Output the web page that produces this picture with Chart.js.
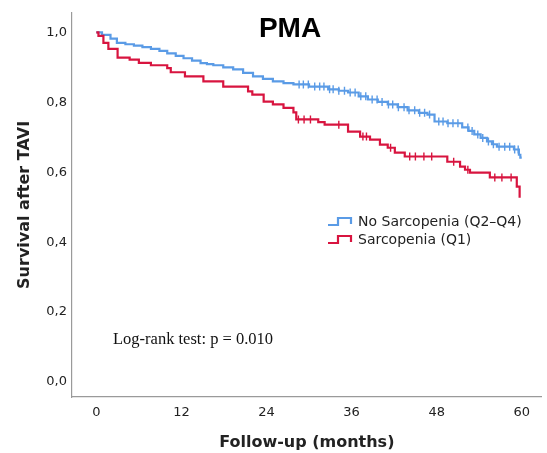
<!DOCTYPE html>
<html>
<head>
<meta charset="utf-8">
<script src="https://cdn.jsdelivr.net/npm/chart.js@4.4.1/dist/chart.umd.min.js"></script>
<style>
html,body{margin:0;padding:0;background:#fff;}
#wrap{position:relative;width:547px;height:453px;}
</style>
</head>
<body>
<div id="wrap"><canvas id="c" width="547" height="453"></canvas></div>
<script>
// ---- data (months, survival) ----
const blueTimes = [0,0.8,2.0,2.9,4.1,5.3,6.5,7.7,8.9,10.0,11.2,12.3,13.5,14.7,15.6,16.5,17.9,19.3,20.7,22.1,23.5,24.9,26.4,27.8,30.0,32.7,34.2,35.5,37.0,38.3,39.7,41.1,42.5,43.9,45.5,46.7,47.7,49.5,51.6,52.5,53.3,54.2,55.1,55.8,56.5,58.9,59.6,59.8,60.0];
const blueSurv  = [1.0,0.993,0.982,0.970,0.966,0.962,0.958,0.953,0.947,0.940,0.933,0.926,0.919,0.912,0.909,0.906,0.900,0.894,0.884,0.874,0.867,0.860,0.855,0.851,0.845,0.837,0.833,0.828,0.817,0.808,0.801,0.794,0.786,0.777,0.770,0.765,0.745,0.740,0.728,0.718,0.708,0.698,0.688,0.680,0.673,0.665,0.650,0.642,0.642];
const redTimes = [0,0.3,1.0,1.7,3.0,4.7,6.0,7.7,10.0,10.5,12.5,15.1,17.9,21.4,22.0,23.6,24.9,26.4,27.8,28.2,31.3,32.2,35.5,37.2,38.6,40.0,41.1,42.1,43.5,49.5,51.3,52.0,52.7,55.5,59.3,59.7];
const redSurv  = [1.0,0.990,0.970,0.953,0.928,0.922,0.913,0.906,0.898,0.886,0.874,0.860,0.845,0.831,0.822,0.802,0.794,0.784,0.771,0.751,0.743,0.736,0.716,0.702,0.693,0.679,0.670,0.656,0.645,0.630,0.616,0.607,0.599,0.585,0.559,0.527];
const blueCensor = [28.6,29.2,29.9,30.8,31.5,32.1,32.9,33.4,34.2,35.0,35.8,36.5,37.3,38.0,38.9,39.6,40.3,41.2,41.8,42.6,43.4,44.1,44.9,45.6,46.3,47.0,48.3,48.9,49.6,50.3,51.0,52.4,53.0,53.8,54.5,55.3,56.0,56.8,57.6,58.3,59.0,59.5];
const redCensor = [28.5,29.3,30.2,34.2,37.6,38.1,41.5,44.2,45.0,46.2,47.3,50.4,52.4,56.2,57.2,58.5];
const xTicks = [0,12,24,36,48,60];
const yTicks = [0,0.2,0.4,0.6,0.8,1.0];
const seriesNames = ['No Sarcopenia (Q2–Q4)','Sarcopenia (Q1)'];
const chartTitle = 'PMA';
const noteText = 'Log-rank test: p = 0.010';

const BLUE = '#5a9be6', RED = '#d8143f';

function pts(t, s){ return t.map((v,i)=>({x:v,y:s[i]})); }
function lookup(t, s, x){ let y=s[0]; for(let i=0;i<t.length;i++){ if(t[i]<=x) y=s[i]; } return y; }
function cens(c, t, s){ return c.map(x=>({x:x,y:lookup(t,s,x)})); }

const overlay = {
  id:'overlay',
  afterDraw(chart){
    const ctx = chart.ctx;
    ctx.save();
    // title
    ctx.fillStyle='#000';
    ctx.font='bold 28px "Liberation Sans", Arial, sans-serif';
    ctx.textAlign='center'; ctx.textBaseline='middle';
    ctx.fillText(chartTitle, 290, 29);
    // legend
    const items=[[BLUE,seriesNames[0],221],[RED,seriesNames[1],239]];
    ctx.lineWidth=2.2;
    items.forEach(([col,txt,yc])=>{
      ctx.strokeStyle=col;
      ctx.beginPath();
      ctx.moveTo(328,yc+4); ctx.lineTo(338,yc+4); ctx.lineTo(338,yc-3); ctx.lineTo(351,yc-3); ctx.lineTo(351,yc+3);
      ctx.stroke();
      ctx.fillStyle='#222';
      ctx.font='14px "DejaVu Sans", sans-serif';
      ctx.textAlign='left'; ctx.textBaseline='middle';
      ctx.fillText(txt, 358, yc+1);
    });
    // note
    ctx.fillStyle='#111';
    ctx.font='16.5px "Liberation Serif", "Times New Roman", serif';
    ctx.textAlign='left'; ctx.textBaseline='middle';
    ctx.fillText(noteText, 113, 340);
    ctx.restore();
  }
};

new Chart(document.getElementById('c'), {
  type:'scatter',
  data:{
    datasets:[
      {label:seriesNames[0], data:pts(blueTimes,blueSurv), showLine:true, stepped:true, borderColor:BLUE, borderWidth:2.2, pointRadius:0, fill:false, order:2},
      {label:seriesNames[1], data:pts(redTimes,redSurv), showLine:true, stepped:true, borderColor:RED, borderWidth:2.2, pointRadius:0, fill:false, order:1},
      {label:'bc', data:cens(blueCensor,blueTimes,blueSurv), showLine:false, pointStyle:'line', rotation:90, pointRadius:4, borderColor:BLUE, borderWidth:1.4, order:2},
      {label:'rc', data:cens(redCensor,redTimes,redSurv), showLine:false, pointStyle:'line', rotation:90, pointRadius:4, borderColor:RED, borderWidth:1.4, order:1}
    ]
  },
  options:{
    responsive:false, animation:false,
    layout:{padding:{top:12,right:2,left:0,bottom:0}},
    plugins:{legend:{display:false}, title:{display:false}, tooltip:{enabled:false}},
    scales:{
      x:{
        type:'linear', min:-3.43, max:62.8,
        afterBuildTicks(s){ s.ticks = xTicks.map(v=>({value:v})); },
        afterFit(s){ s.height = 56; },
        grid:{display:false, drawTicks:false},
        border:{display:true, color:'#9a9a9a', width:1.2},
        ticks:{color:'#222', font:{family:'"DejaVu Sans", sans-serif', size:13}, padding:8, maxRotation:0, callback:v=>String(v)},
        title:{display:true, text:'Follow-up (months)', color:'#222', font:{family:'"DejaVu Sans", sans-serif', size:16, weight:'bold'}, padding:{top:4,bottom:1}}
      },
      y:{
        type:'linear', min:-0.043, max:1.056,
        afterBuildTicks(s){ s.ticks = yTicks.map(v=>({value:v})); },
        afterFit(s){ s.width = 72; },
        grid:{display:false, drawTicks:false},
        border:{display:true, color:'#9a9a9a', width:1.2},
        ticks:{color:'#222', font:{family:'"DejaVu Sans", sans-serif', size:13}, padding:5, callback:v=>v.toFixed(1).replace('.',',')},
        title:{display:true, text:'Survival after TAVI', color:'#222', font:{family:'"DejaVu Sans", sans-serif', size:16, weight:'bold'}, padding:{top:15,bottom:0}}
      }
    }
  },
  plugins:[overlay]
});
</script>
</body>
</html>
